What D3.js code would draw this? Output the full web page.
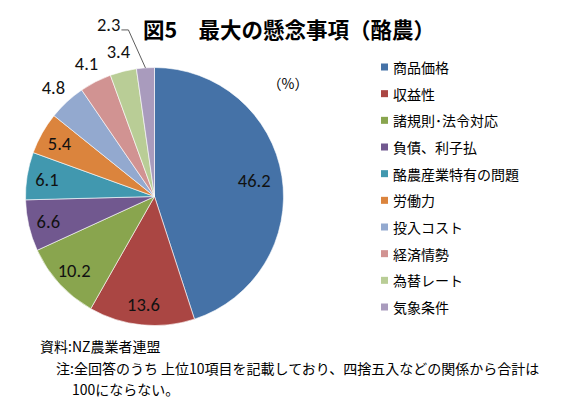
<!DOCTYPE html>
<html lang="ja">
<head>
<meta charset="UTF-8">
<title>図5 最大の懸念事項（酪農）</title>
<script src="https://d3js.org/d3.v7.min.js"></script>
<style>
  body { margin: 0; background: #fff; }
  .jp { font-family: "Noto Sans CJK JP", sans-serif; }
  .num { font-family: Carlito, "Noto Sans", "Liberation Sans", sans-serif; }
</style>
</head>
<body>
<div id="chart"></div>
<script>
// データ
const categories = ['商品価格', '収益性', '諸規則･法令対応', '負債、利子払', '酪農産業特有の問題',
                    '労働力', '投入コスト', '経済情勢', '為替レート', '気象条件']
const values = [46.2, 13.6, 10.2, 6.6, 6.1, 5.4, 4.8, 4.1, 3.4, 2.3]
const colors = ['#4572A7', '#AA4643', '#89A54E', '#71588F', '#4198AF',
                '#DB843D', '#93A9CF', '#D19392', '#B9CD96', '#A99BBD']

const width = 581, height = 399
const cx = 154.5, cy = 196.5, r = 129

const svg = d3.select('#chart').append('svg')
    .attr('width', width)
    .attr('height', height)

// タイトル
svg.append('text')
    .attr('class', 'jp')
    .attr('x', 289).attr('y', 38)
    .attr('text-anchor', 'middle')
    .style('font-size', '21.5px')
    .style('font-weight', 'bold')
    .text('図5　最大の懸念事項（酪農）')

svg.append('text')
    .attr('class', 'jp')
    .attr('x', 288).attr('y', 83)
    .attr('text-anchor', 'middle')
    .attr('dominant-baseline', 'central')
    .style('font-size', '14px')
    .text('（%）')

// 円グラフ
const pie = d3.pie().sort(null).value(d => d)
const arcs = pie(values)
const arc = d3.arc().innerRadius(0).outerRadius(r)

const g = svg.append('g').attr('transform', `translate(${cx},${cy})`)

g.selectAll('path')
    .data(arcs)
    .enter()
    .append('path')
    .attr('d', arc)
    .attr('fill', (d, i) => colors[i])
    .attr('stroke', '#fff')
    .attr('stroke-width', 0.6)

// ラベル
const mid = d => (d.startAngle + d.endAngle) / 2
const pt = (a, rad) => [Math.sin(a) * rad, -Math.cos(a) * rad]

arcs.forEach((d, i) => {
    const a = mid(d)
    if (i < 6) {
        const p = pt(a, i === 0 ? 101 : 109)
        g.append('text').attr('class', 'num')
            .attr('x', p[0]).attr('y', p[1])
            .attr('text-anchor', 'middle')
            .attr('dominant-baseline', 'central')
            .style('font-size', '18.5px')
            .attr('fill', '#111')
            .text(values[i])
    } else if (i < 9) {
        const p = pt(a, 149)
        g.append('text').attr('class', 'num')
            .attr('x', p[0]).attr('y', p[1])
            .attr('text-anchor', 'middle')
            .attr('dominant-baseline', 'central')
            .style('font-size', '18.5px')
            .attr('fill', '#111')
            .text(values[i])
    } else {
        // 引出線付きラベル
        const p = pt(a, 172)
        const tx = p[0] - 22, ty = p[1]
        const e = pt(a, r)
        g.append('path')
            .attr('d', d3.line()([[tx + 1, ty + 5], [tx + 8, ty + 5], e]))
            .attr('fill', 'none')
            .attr('stroke', '#333')
            .attr('stroke-width', 0.8)
        g.append('text').attr('class', 'num')
            .attr('x', tx).attr('y', ty)
            .attr('text-anchor', 'end')
            .attr('dominant-baseline', 'central')
            .style('font-size', '18.5px')
            .attr('fill', '#111')
            .text(values[i])
    }
})

// 凡例
const legendY = d3.scalePoint().domain(categories).range([67, 307])
const legend = svg.append('g')
    .selectAll('g')
    .data(categories)
    .enter()
    .append('g')
    .attr('transform', d => `translate(381,${legendY(d)})`)

legend.append('rect')
    .attr('x', 0).attr('y', -3.5)
    .attr('width', 7).attr('height', 7)
    .attr('fill', (d, i) => colors[i])

legend.append('text')
    .attr('class', 'jp')
    .attr('x', 12).attr('y', 0)
    .attr('dominant-baseline', 'central')
    .style('font-size', '14px')
    .text(d => d)

// 注記
const notes = ['資料:NZ農業者連盟',
               '注:全回答のうち 上位10項目を記載しており、四捨五入などの関係から合計は',
               '100にならない。']
const noteX = [40, 56, 72]
svg.append('g').selectAll('text')
    .data(notes)
    .enter()
    .append('text')
    .attr('class', 'jp')
    .attr('x', (d, i) => noteX[i])
    .attr('y', (d, i) => 346 + i * 21.5)
    .attr('dominant-baseline', 'central')
    .style('font-size', '14px')
    .text(d => d)
</script>
</body>
</html>
